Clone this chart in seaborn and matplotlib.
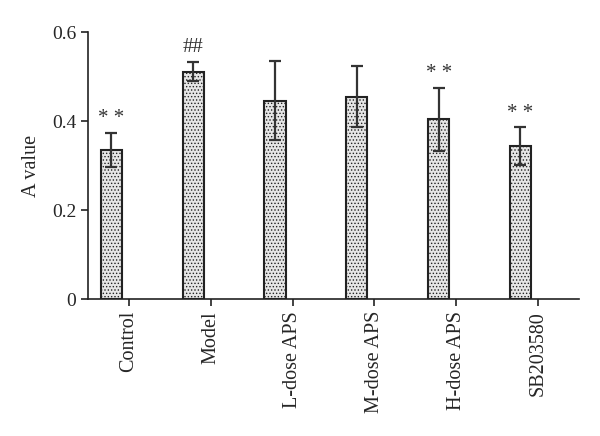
import numpy as np
import pandas as pd
import matplotlib.pyplot as plt
import seaborn as sns

# data
groups = ['Control', 'Model', 'L-dose APS', 'M-dose APS', 'H-dose APS', 'SB203580']
means = [0.335, 0.511, 0.446, 0.455, 0.404, 0.344]
sds = [0.039, 0.022, 0.088, 0.068, 0.071, 0.042]
marks = ['* *', '##', '', '', '* *', '* *']

sns.set_style('ticks')
plt.rcParams['font.family'] = ['Liberation Serif', 'DejaVu Serif']
plt.rcParams['hatch.color'] = '#777777'
plt.rcParams['hatch.linewidth'] = 0.6

df = pd.DataFrame({'group': groups, 'value': means})

fig = plt.figure(figsize=(6, 4.36), dpi=100)
ax = fig.add_axes([0.1467, 0.314, 0.8183, 0.6126])

sns.barplot(data=df, x='group', y='value', width=0.26, color='#e6e6e6',
            edgecolor='#222222', linewidth=1.5, errorbar=None, ax=ax)

# bars sit left of their tick
for p, m, s, t in zip(ax.patches, means, sds, marks):
    p.set_x(p.get_x() - 0.215)
    p.set_hatch('.....')
    cx = p.get_x() + p.get_width() / 2
    ax.errorbar(cx, m, yerr=s, color='#333333', elinewidth=1.6,
                capsize=4, capthick=1.6, zorder=5)
    if t:
        ax.text(cx, m + s + 0.01, t, ha='center', va='bottom', fontsize=15,
                color='#333333')

ax.set_xlim(-0.5, 5.5)
ax.set_ylim(0, 0.6)
ax.set_yticks([0, 0.2, 0.4, 0.6])
ax.set_yticklabels(['0', '0.2', '0.4', '0.6'], fontsize=14)
ax.set_xticks(range(len(groups)))
ax.set_xticklabels(groups, rotation=90, fontsize=14.5)
ax.set_xlabel('')
ax.set_ylabel('A value', fontsize=14.5, labelpad=8)
ax.tick_params(axis='both', length=5, width=1.2, color='#222222')
for side in ['left', 'bottom']:
    ax.spines[side].set_linewidth(1.2)
    ax.spines[side].set_color('#222222')
sns.despine(ax=ax)

plt.savefig('out.png', dpi=100)
